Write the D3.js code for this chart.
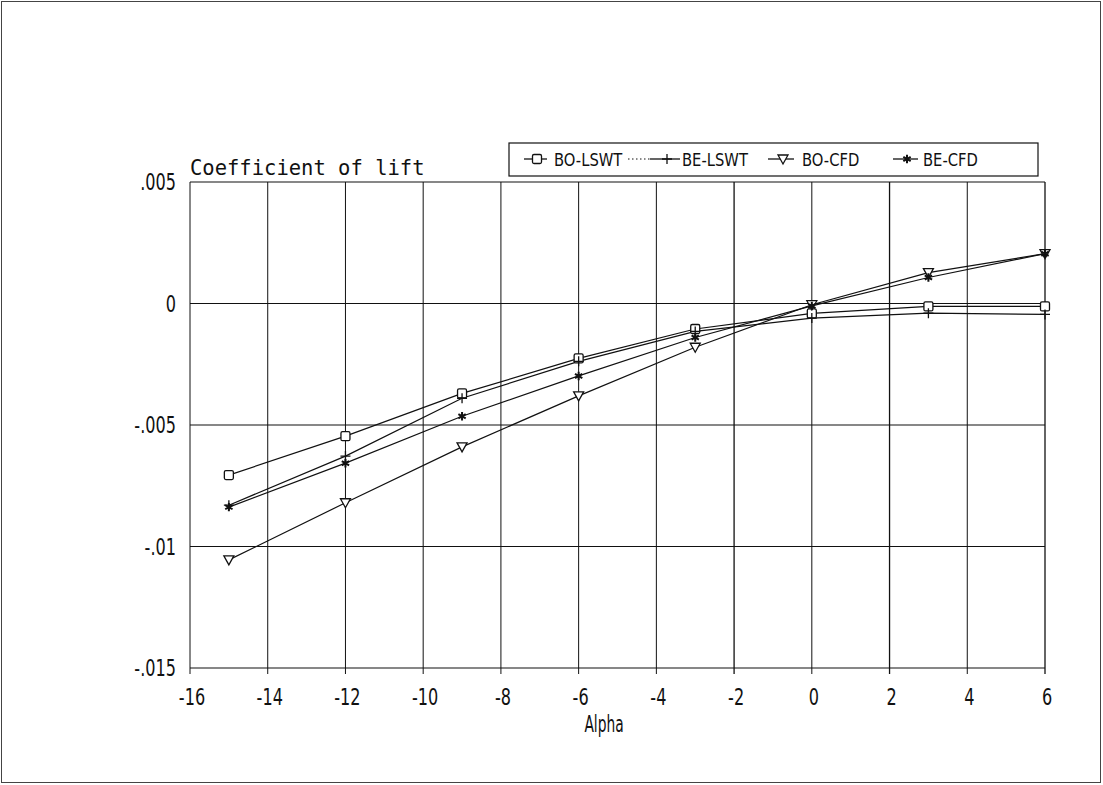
<!DOCTYPE html>
<html><head><meta charset="utf-8">
<script src="https://cdn.jsdelivr.net/npm/d3@7"></script>
<style>body{margin:0;background:#fff}svg{display:block}</style>
</head><body>
<svg id="c" width="1103" height="785"></svg>
<script>
const alpha = [-15, -12, -9, -6, -3, 0, 3, 6];
const boLSWT = [-0.00706, -0.00546, -0.0037, -0.00226, -0.00105, -0.00041, -0.00012, -0.00012];
const beLSWT = [-0.0083, -0.00628, -0.0039, -0.00238, -0.00115, -0.0006, -0.0004, -0.00045];
const boCFD = [-0.01055, -0.0082, -0.0059, -0.0038, -0.0018, -0.00005, 0.00127, 0.00205];
const beCFD = [-0.00838, -0.00657, -0.00464, -0.00298, -0.0014, -0.0001, 0.00107, 0.00205];
const xTicks = [-16, -14, -12, -10, -8, -6, -4, -2, 0, 2, 4, 6];
const yTicks = [0.005, 0, -0.005, -0.01, -0.015];
const yTickLabels = [".005", "0", "-.005", "-.01", "-.015"];
const seriesNames = ["BO-LSWT", "BE-LSWT", "BO-CFD", "BE-CFD"];
const seriesMarkers = ["square", "plus", "triangle", "star"];

const svg = d3.select("#c");
const x = d3.scaleLinear().domain([-16, 6]).range([190, 1045]);
const y = d3.scaleLinear().domain([-0.015, 0.005]).range([668, 182]);
const ink = "#111";

// outer border
svg.append("rect").attr("x", 1.5).attr("y", 1.5).attr("width", 1099).attr("height", 781)
  .attr("fill", "none").attr("stroke", "#444").attr("stroke-width", 1);

// grid
const g = svg.append("g");
g.selectAll("line.vx").data(xTicks).join("line")
  .attr("x1", d => x(d)).attr("x2", d => x(d))
  .attr("y1", y(0.005)).attr("y2", y(-0.015) + 6)
  .attr("stroke", ink).attr("stroke-width", d => (d % 4 === 2 || d === -2) ? 1.3 : 1);
g.selectAll("line.hy").data(yTicks).join("line")
  .attr("x1", x(-16)).attr("x2", x(6))
  .attr("y1", d => y(d)).attr("y2", d => y(d))
  .attr("stroke", ink).attr("stroke-width", 1.2);

// tick labels
const labFont = "DejaVu Sans, sans-serif";
svg.selectAll("text.yl").data(yTicks).join("text")
  .attr("transform", d => `translate(176,${y(d) + 8}) scale(0.7,1)`)
  .attr("text-anchor", "end").attr("font-family", labFont).attr("font-size", 23)
  .attr("fill", ink).text((d, i) => yTickLabels[i]);
svg.selectAll("text.xl").data(xTicks).join("text")
  .attr("transform", d => `translate(${x(d) + 2},${705}) scale(0.7,1)`)
  .attr("text-anchor", "middle").attr("font-family", labFont).attr("font-size", 23)
  .attr("fill", ink).text(d => d < 0 ? "-" + Math.abs(d) : String(d));
svg.append("text").attr("transform", "translate(604,732) scale(0.6,1)")
  .attr("text-anchor", "middle").attr("font-family", labFont).attr("font-size", 23)
  .attr("fill", ink).text("Alpha");
svg.append("text").attr("x", 190).attr("y", 175)
  .attr("font-family", "DejaVu Sans Mono, monospace").attr("font-size", 20.5)
  .attr("fill", ink).text("Coefficient of lift");

// markers
function drawMarker(sel, type, cx, cy) {
  if (type === "square") {
    sel.append("rect").attr("x", cx - 4.5).attr("y", cy - 4.5).attr("width", 9).attr("height", 9)
      .attr("rx", 1.5).attr("fill", "#fff").attr("stroke", ink).attr("stroke-width", 1.3);
  } else if (type === "triangle") {
    sel.append("path").attr("d", `M${cx - 5},${cy - 4}L${cx + 5},${cy - 4}L${cx},${cy + 5}Z`)
      .attr("fill", "#fff").attr("stroke", ink).attr("stroke-width", 1.3);
  } else if (type === "plus") {
    sel.append("path").attr("d", `M${cx - 5},${cy}H${cx + 5}M${cx},${cy - 5}V${cx === cx ? cy + 5 : 0}`)
      .attr("fill", "none").attr("stroke", ink).attr("stroke-width", 1.3);
  } else if (type === "star") {
    sel.append("path").attr("d", d3.symbol(d3.symbolAsterisk, 50)())
      .attr("transform", `translate(${cx},${cy})`)
      .attr("fill", "none").attr("stroke", ink).attr("stroke-width", 2);
  }
}

const series = [boLSWT, beLSWT, boCFD, beCFD];
const line = d3.line().x((d, i) => x(alpha[i])).y(d => y(d));
series.forEach((s, k) => {
  svg.append("path").datum(s).attr("d", line).attr("fill", "none")
    .attr("stroke", ink).attr("stroke-width", 1.2);
});
series.forEach((s, k) => {
  const mg = svg.append("g");
  s.forEach((v, i) => drawMarker(mg, seriesMarkers[k], x(alpha[i]), y(v)));
});

// legend
const lg = svg.append("g");
lg.append("rect").attr("x", 509).attr("y", 143).attr("width", 529).attr("height", 33)
  .attr("fill", "#fff").attr("stroke", ink).attr("stroke-width", 1.2);
const ly = 159;
const legendLayout = [
  {x1: 524, x2: 547, m: 537, t: 554, dot: null},
  {x1: 650, x2: 680, m: 667, t: 682, dot: [628, 650]},
  {x1: 768, x2: 794, m: 783, t: 802, dot: null},
  {x1: 893, x2: 918, m: 907, t: 923, dot: null}
];
seriesNames.forEach((name, k) => {
  const L = legendLayout[k];
  if (L.dot) lg.append("line").attr("x1", L.dot[0]).attr("x2", L.dot[1]).attr("y1", ly).attr("y2", ly)
    .attr("stroke", ink).attr("stroke-width", 1).attr("stroke-dasharray", "1.5,2.5");
  lg.append("line").attr("x1", L.x1).attr("x2", L.x2).attr("y1", ly).attr("y2", ly)
    .attr("stroke", ink).attr("stroke-width", 1.3);
  drawMarker(lg, seriesMarkers[k], L.m, ly);
  lg.append("text").attr("transform", `translate(${L.t},${ly + 6.5}) scale(0.82,1)`)
    .attr("font-family", labFont).attr("font-size", 18).attr("fill", ink).text(name);
});
</script>
</body></html>
